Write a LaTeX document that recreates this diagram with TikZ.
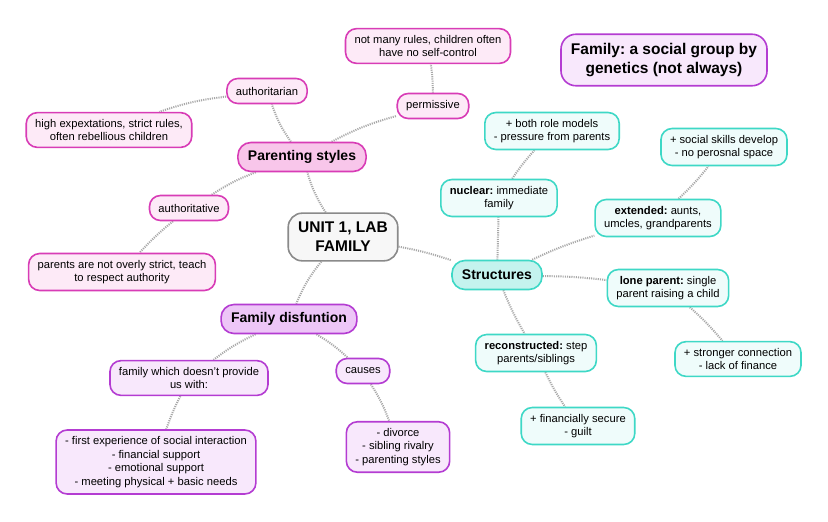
\documentclass[tikz,border=0pt]{standalone}
\usepackage{fontspec}
\setmainfont{Liberation Sans}
\usetikzlibrary{backgrounds}
\frenchspacing
\definecolor{pinkB}{HTML}{D83CB6}
\definecolor{pinkF}{HTML}{FDEAF7}
\definecolor{pinkH}{HTML}{F8C6EA}
\definecolor{purB}{HTML}{B43CD2}
\definecolor{purF}{HTML}{F8E8FC}
\definecolor{purH}{HTML}{EDC6F7}
\definecolor{cyB}{HTML}{3ED8C6}
\definecolor{cyF}{HTML}{EFFCFB}
\definecolor{cyH}{HTML}{C4F3EE}
\definecolor{grB}{HTML}{8A8A8A}
\definecolor{grF}{HTML}{F7F7F7}
\definecolor{lnk}{HTML}{A8A8A8}
\tikzset{
  box/.style={rounded corners=11pt, line width=1.6pt, align=center, inner xsep=9pt, inner ysep=6.5pt,
     minimum height=25pt, font=\fontsize{11.2}{13.5}\selectfont, text=black},
  headb/.style={font=\fontsize{14}{17}\selectfont\bfseries, minimum height=29pt, inner xsep=10pt, rounded corners=13pt},
  pk/.style={box, draw=pinkB, fill=pinkF},
  pkh/.style={box, draw=pinkB, fill=pinkH, headb},
  pu/.style={box, draw=purB, fill=purF},
  puh/.style={box, draw=purB, fill=purH, headb},
  cy/.style={box, draw=cyB, fill=cyF},
  cyh/.style={box, draw=cyB, fill=cyH, headb},
  link/.style={draw=lnk, line width=2pt, dash pattern=on 1.1pt off 1.1pt},
}
\begin{document}
\begin{tikzpicture}[x=1pt,y=-1pt]
\useasboundingbox (0,0) rectangle (828,522);
% central
\node[box, draw=grB, fill=grF, font=\fontsize{15.5}{19}\selectfont\bfseries, inner ysep=9pt, inner xsep=10pt, rounded corners=14pt] (unit) at (343,237) {UNIT 1, LAB\\FAMILY};
\node[box, draw=purB, fill=purF, font=\fontsize{15.5}{19}\selectfont\bfseries, inner ysep=9pt, inner xsep=10pt, rounded corners=15pt] (fam) at (664,60) {Family: a social group by\\genetics (not always)};
% parenting
\node[pkh] (ps) at (302,157) {Parenting styles};
\node[pk] (auth) at (267,91) {authoritarian};
\node[pk] (high) at (109,130) {high expextations, strict rules,\\often rebellious children};
\node[pk] (perm) at (433,106) {permissive};
\node[pk] (notm) at (428,46) {not many rules, children often\\have no self-control};
\node[pk] (autv) at (189,208) {authoritative};
\node[pk] (pano) at (122,272) {parents are not overly strict, teach\\to respect authority};
% disfunction
\node[puh] (dis) at (289,319) {Family disfuntion};
\node[pu] (fwd) at (189,378) {family which doesn't provide\\us with:};
\node[pu] (first) at (156,462) {- first experience of social interaction\\- financial support\\- emotional support\\- meeting physical + basic needs};
\node[pu] (caus) at (363,371) {causes};
\node[pu] (div) at (398,447) {- divorce\\- sibling rivalry\\- parenting styles};
% structures
\node[cyh] (str) at (497,275) {Structures};
\node[cy] (nuc) at (499,198) {\textbf{nuclear:} immediate\\family};
\node[cy] (both) at (552,131) {+ both role models\\- pressure from parents};
\node[cy] (ext) at (658,218) {\textbf{extended:} aunts,\\umcles, grandparents};
\node[cy] (soc) at (724,147) {+ social skills develop\\- no perosnal space};
\node[cy] (lone) at (668,288) {\textbf{lone parent:} single\\parent raising a child};
\node[cy] (strong) at (738,359) {+ stronger connection\\- lack of finance};
\node[cy] (rec) at (536,353) {\textbf{reconstructed:} step\\parents/siblings};
\node[cy] (fin) at (578,426) {+ financially secure\\- guilt};
% links
\begin{scope}[on background layer]
\fill[white] (0,0) rectangle (828,522);
\path[link] (unit) to[bend left=8] (ps);
\path[link] (ps) to[bend left=8] (auth);
\path[link] (auth) to[bend right=6] (high);
\path[link] (ps) to[bend left=6] (perm);
\path[link] (perm) to[bend right=4] (notm);
\path[link] (ps) to[bend right=6] (autv);
\path[link] (autv) to[bend right=4] (pano);
\path[link] (unit) to[bend right=8] (dis);
\path[link] (dis) to[bend right=6] (fwd);
\path[link] (dis) to[bend left=6] (caus);
\path[link] (fwd) to[bend right=4] (first);
\path[link] (caus) to[bend left=6] (div);
\path[link] (unit) to[bend left=4] (str);
\path[link] (str) to (nuc);
\path[link] (nuc) to[bend left=4] (both);
\path[link] (str) to[bend left=4] (ext);
\path[link] (ext) to[bend right=4] (soc);
\path[link] (str) to[bend left=3] (lone);
\path[link] (lone) to[bend left=4] (strong);
\path[link] (str) to[bend right=4] (rec);
\path[link] (rec) to[bend right=4] (fin);
\end{scope}
\end{tikzpicture}
\end{document}
